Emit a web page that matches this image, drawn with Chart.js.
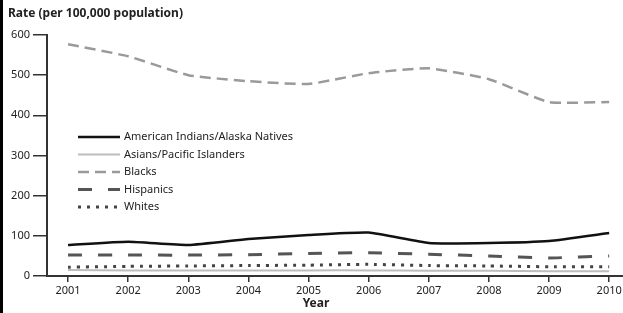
<!DOCTYPE html>
<html>
<head>
<meta charset="utf-8">
<script src="https://cdn.jsdelivr.net/npm/chart.js@4"></script>
<style>
  html, body { margin: 0; padding: 0; background: #fff; }
  #wrap { position: relative; width: 623px; height: 313px; }
</style>
</head>
<body>
<div id="wrap"><canvas id="chart" width="623" height="313"></canvas></div>
<script>
// years on the x axis
const years = [2001, 2002, 2003, 2004, 2005, 2006, 2007, 2008, 2009, 2010];
const yTicks = [0, 100, 200, 300, 400, 500, 600];

// rates per 100,000
const aian      = [77, 85, 77, 92, 102, 108, 82, 82, 87, 107];
const asianPI   = [15, 14, 14, 14, 14, 14, 13, 13, 12, 12];
const blacks    = [577, 547, 500, 485, 478, 505, 517, 490, 433, 433];
const hispanics = [52, 52, 52, 53, 56, 58, 54, 50, 45, 50];
const whites    = [22, 24, 25, 26, 27, 29, 26, 25, 23, 23];

const FONT = '"Noto Sans", "Open Sans", sans-serif';

function series(label, values, color, width, dash) {
  return {
    label,
    data: values.map((v, i) => ({ x: years[i], y: v })),
    borderColor: color,
    borderWidth: width,
    borderDash: dash,
    pointRadius: 0,
    tension: 0.15,
    fill: false,
  };
}

// left black edge, title, x axis name and in-plot legend
const decor = {
  id: 'decor',
  afterDraw(chart) {
    const ctx = chart.ctx;
    ctx.save();
    ctx.fillStyle = '#000';
    ctx.fillRect(0, 0, 3, chart.height);

    ctx.fillStyle = '#222';
    ctx.font = 'bold 12px ' + FONT;
    ctx.textBaseline = 'middle';
    ctx.textAlign = 'left';
    ctx.fillText('Rate (per 100,000 population)', 8, 14);
    ctx.textAlign = 'center';
    ctx.fillText('Year', 316, 304);

    // legend
    ctx.font = '11px ' + FONT;
    ctx.textAlign = 'left';
    chart.data.datasets.forEach((ds, i) => {
      const y = 137 + i * 17.5;
      ctx.beginPath();
      ctx.strokeStyle = ds.borderColor;
      ctx.lineWidth = ds.borderWidth;
      ctx.setLineDash(ds.borderDash || []);
      ctx.moveTo(78, y);
      ctx.lineTo(120, y);
      ctx.stroke();
      ctx.setLineDash([]);
      ctx.fillStyle = '#222';
      ctx.fillText(ds.label, 124, y);
    });
    ctx.restore();
  }
};

new Chart(document.getElementById('chart'), {
  type: 'line',
  data: {
    datasets: [
      series('American Indians/Alaska Natives', aian, '#111', 2.5, []),
      series('Asians/Pacific Islanders', asianPI, '#bdbdbd', 2, []),
      series('Blacks', blacks, '#9a9a9a', 2.5, [11, 6]),
      series('Hispanics', hispanics, '#555', 3, [14, 16]),
      series('Whites', whites, '#444', 3, [3, 6]),
    ]
  },
  options: {
    responsive: false,
    animation: false,
    layout: { padding: { top: 35, left: 0, right: 0, bottom: 0 } },
    plugins: {
      legend: { display: false },
      tooltip: { enabled: false }
    },
    scales: {
      x: {
        type: 'linear',
        min: 2000.65,
        max: 2010.23,
        afterBuildTicks: s => { s.ticks = years.map(v => ({ value: v })); },
        afterFit: s => { s.height = 37; s.paddingLeft = 0; s.paddingRight = 0; },
        grid: { drawOnChartArea: false, drawTicks: true, tickLength: 6, color: '#333', lineWidth: 1.5 },
        border: { color: '#333', width: 2 },
        ticks: { color: '#222', font: { family: FONT, size: 11 }, padding: 2, maxRotation: 0, callback: v => String(v) }
      },
      y: {
        min: 0,
        max: 600,
        afterBuildTicks: s => { s.ticks = yTicks.map(v => ({ value: v })); },
        afterFit: s => { s.width = 47; },
        grid: { drawOnChartArea: false, drawTicks: true, tickLength: 14, color: '#333', lineWidth: 1.5 },
        border: { color: '#333', width: 2 },
        ticks: { color: '#222', font: { family: FONT, size: 11 }, padding: 3 }
      }
    }
  },
  plugins: [decor]
});
</script>
</body>
</html>
